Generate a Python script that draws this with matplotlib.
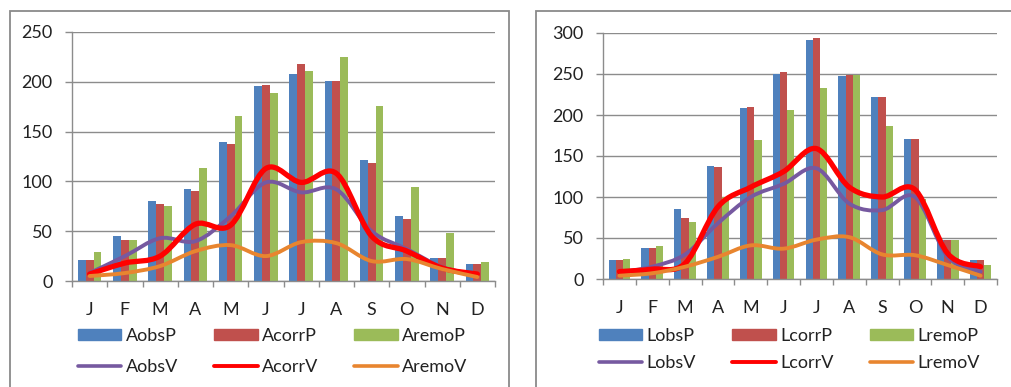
import numpy as np
import matplotlib
matplotlib.use("Agg")
import matplotlib.pyplot as plt
from matplotlib.path import Path
from matplotlib.patches import PathPatch, Rectangle, Patch
from matplotlib.lines import Line2D

plt.rcParams['font.family'] = ['Lato', 'DejaVu Sans']

# data
months = ["J", "F", "M", "A", "M", "J", "J", "A", "S", "O", "N", "D"]

AobsP = [21, 45, 80, 92, 140, 196, 208, 201, 121, 65, 23, 17]
AcorrP = [21, 41, 77, 90, 138, 197, 218, 201, 118, 62, 23, 17]
AremoP = [29, 41, 75, 113, 166, 189, 211, 225, 176, 94, 48, 19]
AobsV = [8, 25, 43, 40, 65, 99, 89, 92, 50, 32, 14, 6]
AcorrV = [7, 18, 25, 57, 56, 113, 99, 108, 45, 30, 13, 7]
AremoV = [5, 8, 15, 30, 36, 25, 39, 38, 20, 22, 12, 4]

LobsP = [23, 38, 85, 138, 208, 250, 292, 247, 222, 171, 48, 23]
LcorrP = [23, 38, 75, 136, 210, 253, 294, 249, 222, 171, 48, 23]
LremoP = [25, 40, 69, 100, 169, 206, 233, 249, 187, 97, 48, 17]
LobsV = [8, 15, 30, 68, 100, 116, 135, 92, 84, 100, 27, 9]
LcorrV = [9, 12, 19, 88, 112, 131, 159, 112, 100, 109, 31, 15]
LremoV = [4, 7, 15, 27, 41, 37, 48, 51, 30, 29, 17, 4]

c_blue, c_red, c_green = "#4F81BD", "#C0504D", "#9BBB59"
c_purple, c_line_red, c_orange = "#7659A0", "#FF0000", "#E8852F"
grid_c = "#8C8C8C"
W, H = 1011, 387
FS = 13


def smooth_line(ax, y, color, lw):
    # excel-like smoothed line: bezier segments through the points
    x = np.arange(len(y), dtype=float)
    p = np.column_stack([x, np.asarray(y, dtype=float)])
    verts = [p[0]]
    codes = [Path.MOVETO]
    n = len(p)
    for i in range(n - 1):
        p0 = p[max(i - 1, 0)]
        p1, p2 = p[i], p[i + 1]
        p3 = p[min(i + 2, n - 1)]
        verts += [p1 + (p2 - p0) / 6, p2 - (p3 - p1) / 6, p2]
        codes += [Path.CURVE4] * 3
    ax.add_patch(PathPatch(Path(verts, codes), fill=False, edgecolor=color,
                           lw=lw, capstyle='round', joinstyle='round', zorder=3))


def panel(ax, bars, lines, names, ymax, ystep, leg_xy, leg_sp):
    x = np.arange(len(months))
    bw = 0.22
    for k, (vals, col) in enumerate(zip(bars, [c_blue, c_red, c_green])):
        ax.bar(x + (k - 1) * bw, vals, width=bw, color=col, zorder=2)
    for vals, col, lw in zip(lines, [c_purple, c_line_red, c_orange], [2.8, 3.8, 2.8]):
        smooth_line(ax, vals, col, lw)
    ax.set_xlim(-0.5, 11.5)
    ax.set_ylim(0, ymax)
    ax.set_yticks(np.arange(0, ymax + 1, ystep))
    ax.yaxis.grid(True, color=grid_c, lw=1.0)
    ax.set_axisbelow(True)
    ax.set_xticks(x)
    ax.set_xticklabels(months)
    ax.set_xticks(np.arange(-0.5, 12, 1), minor=True)
    ax.tick_params(axis='x', which='major', length=0, pad=15, labelsize=FS, colors='#222222')
    ax.tick_params(axis='x', which='minor', length=4.5, width=1.0, color=grid_c)
    ax.tick_params(axis='y', length=5, width=1.0, color=grid_c, pad=9, labelsize=FS,
                   labelcolor='#222222')
    for s in ['top', 'right']:
        ax.spines[s].set_visible(False)
    for s in ['left', 'bottom']:
        ax.spines[s].set_color(grid_c)
        ax.spines[s].set_linewidth(1.0)
    handles = [
        Patch(color=c_blue), Line2D([], [], color=c_purple, lw=2.6, solid_capstyle='round'),
        Patch(color=c_red), Line2D([], [], color=c_line_red, lw=2.8, solid_capstyle='round'),
        Patch(color=c_green), Line2D([], [], color=c_orange, lw=2.6, solid_capstyle='round'),
    ]
    labels = [names[0], names[3], names[1], names[4], names[2], names[5]]
    ax.legend(handles, labels, ncol=3, loc='upper left',
              bbox_to_anchor=(leg_xy[0] / W, 1 - leg_xy[1] / H),
              bbox_transform=ax.figure.transFigure, frameon=False,
              fontsize=FS, handlelength=2.4, handleheight=0.6,
              handletextpad=0.25, columnspacing=2.0, labelspacing=leg_sp,
              borderpad=0, borderaxespad=0, labelcolor='#222222')


fig = plt.figure(figsize=(W / 100, H / 100), dpi=100)

# panel frames
fig.patches.append(Rectangle((10 / W, -0.05), 499 / W, 1.05 - 11 / H, transform=fig.transFigure,
                             fill=False, edgecolor='#8A8A8A', lw=1.3))
fig.patches.append(Rectangle((536 / W, -0.05), 0.6, 1.05 - 11 / H, transform=fig.transFigure,
                             fill=False, edgecolor='#8A8A8A', lw=1.3))

ax1 = fig.add_axes([72 / W, 1 - 281 / H, 423 / W, 249 / H])
panel(ax1, [AobsP, AcorrP, AremoP], [AobsV, AcorrV, AremoV],
      ["AobsP", "AcorrP", "AremoP", "AobsV", "AcorrV", "AremoV"], 250, 50, (78, 328), 0.85)

ax2 = fig.add_axes([603 / W, 1 - 279 / H, 394 / W, 246 / H])
panel(ax2, [LobsP, LcorrP, LremoP], [LobsV, LcorrV, LremoV],
      ["LobsP", "LcorrP", "LremoP", "LobsV", "LcorrV", "LremoV"], 300, 50, (599, 328), 0.6)

fig.savefig("out.png", dpi=100)
